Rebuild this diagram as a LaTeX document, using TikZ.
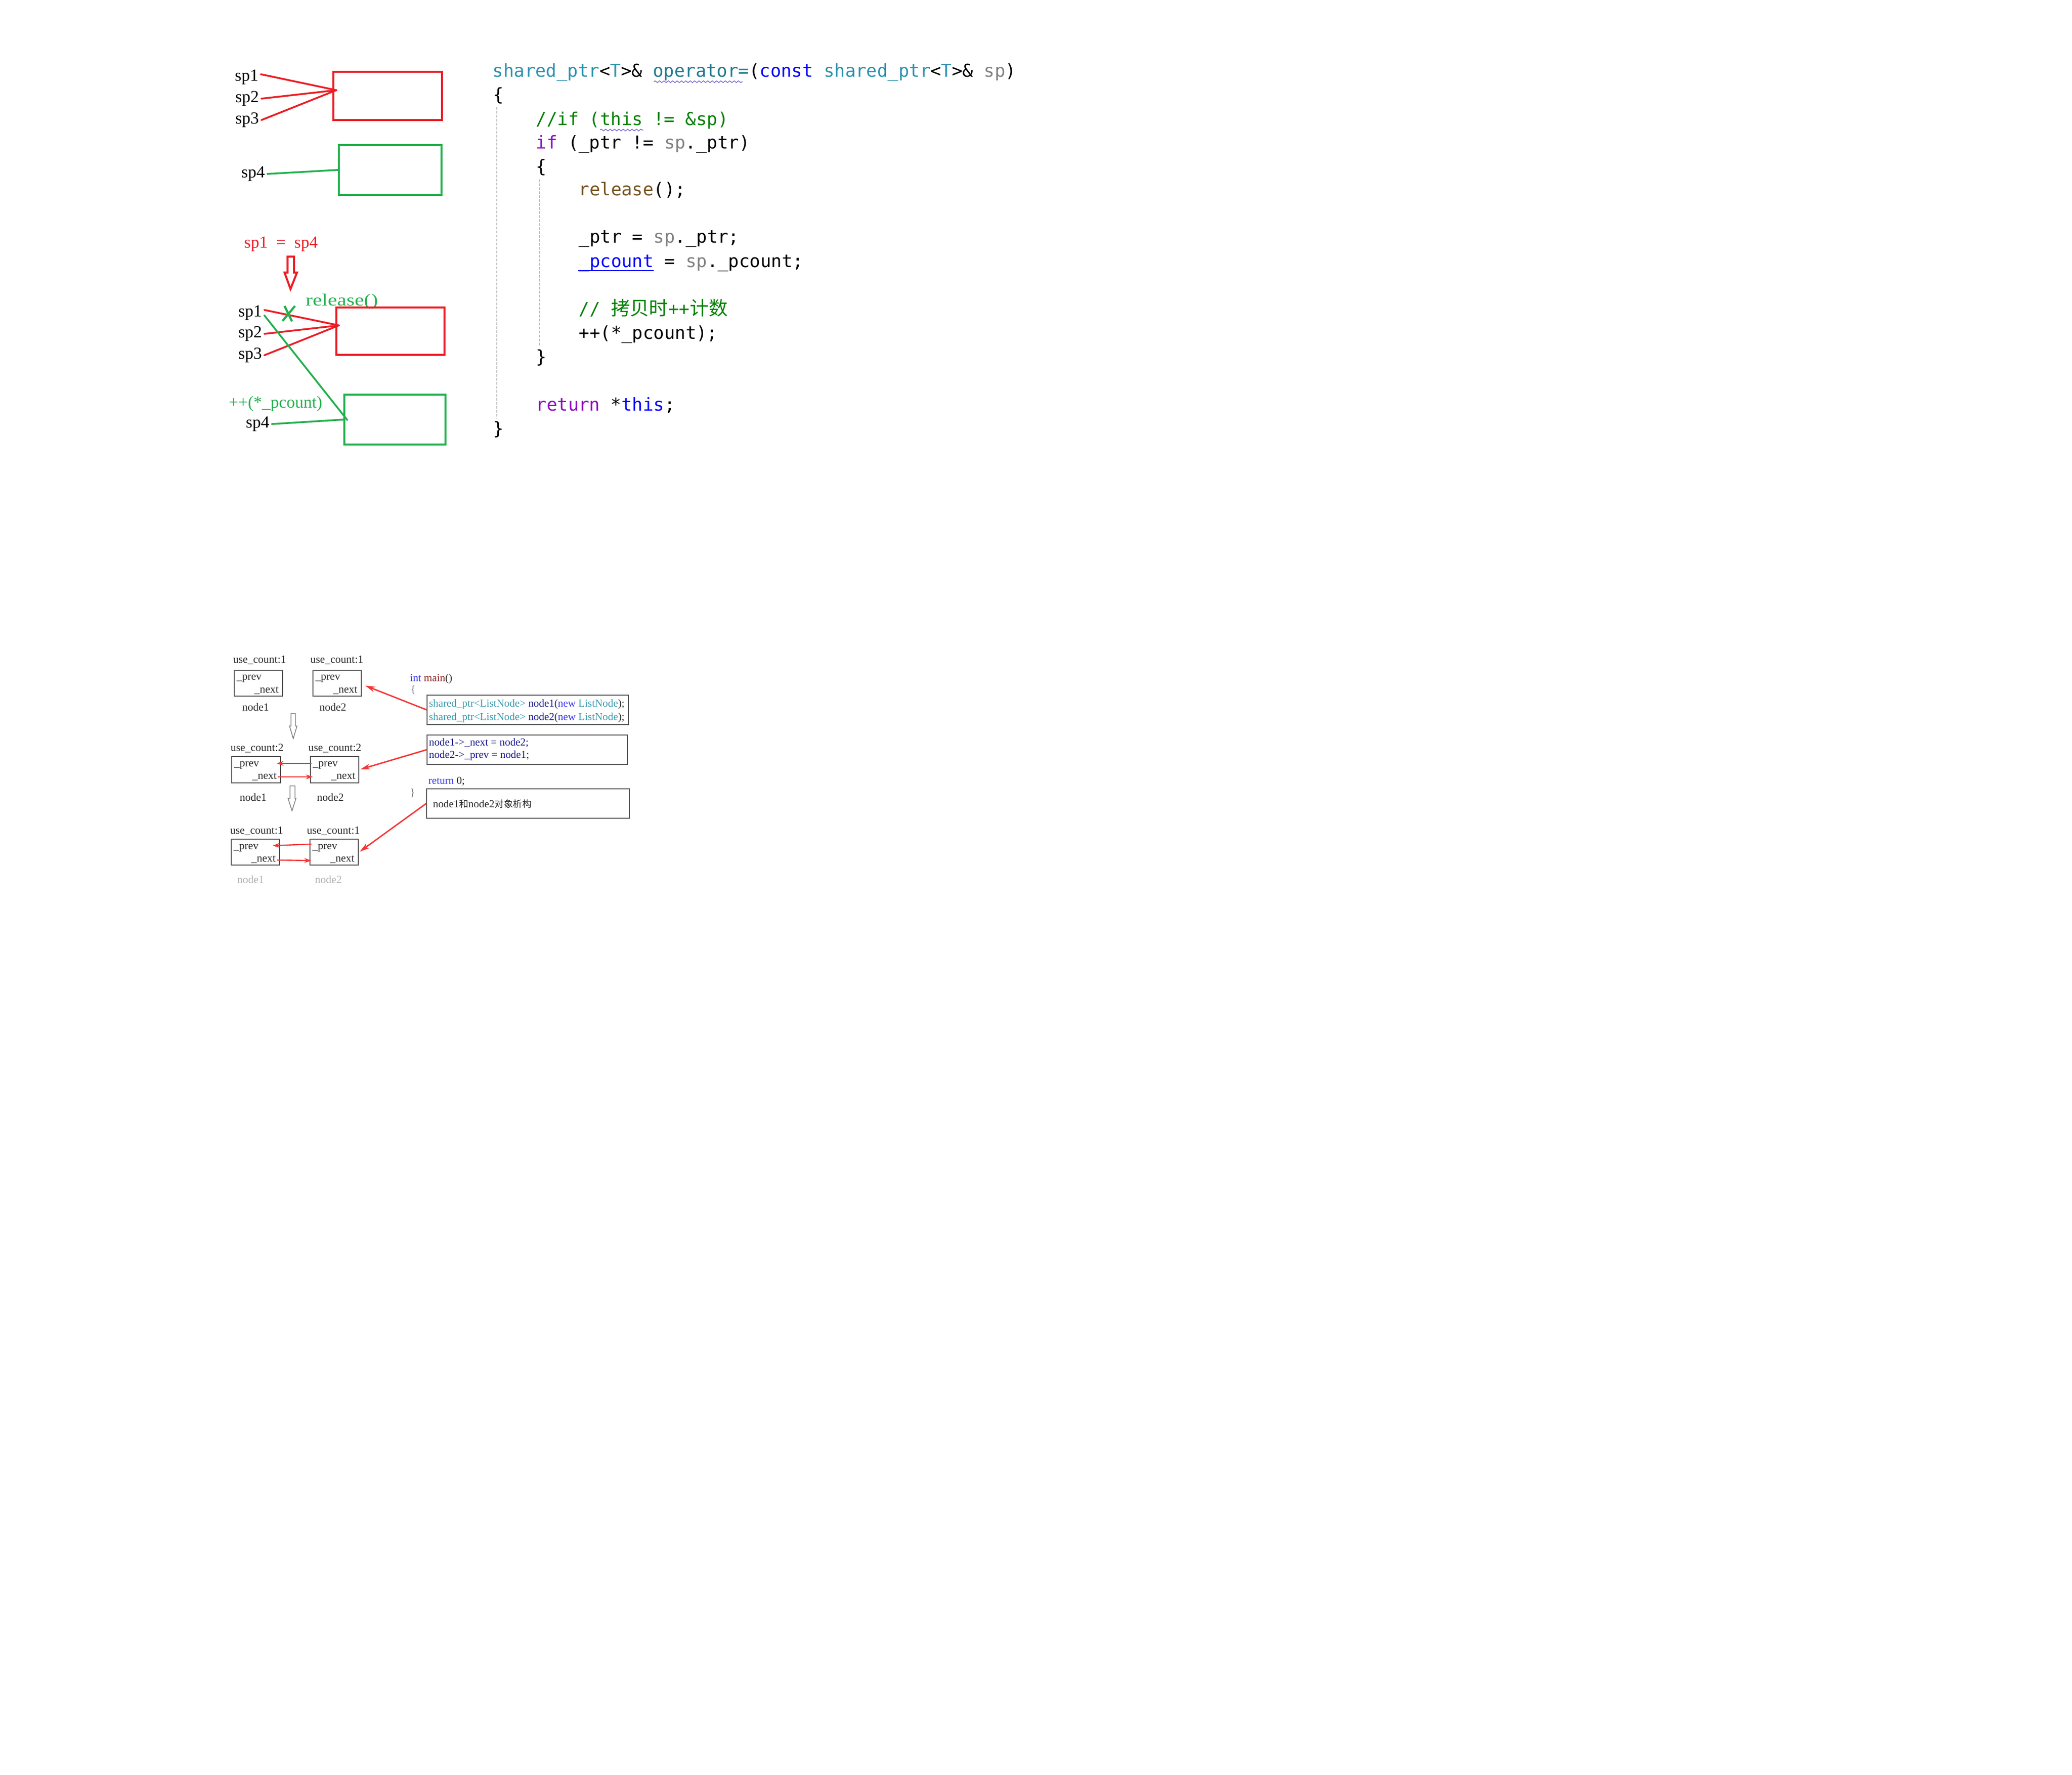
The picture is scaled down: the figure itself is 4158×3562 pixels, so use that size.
\documentclass[tikz,border=0pt]{standalone}
\usepackage{fontspec}
\setmainfont{Liberation Serif}
\newfontfamily\cjk{Noto Sans CJK SC}
\newfontfamily\codefont{DejaVu Sans Mono}
\usetikzlibrary{fit,arrows.meta,decorations.pathmorphing}
\definecolor{pred}{HTML}{ED1C24}
\definecolor{pgreen}{HTML}{22B14C}
\definecolor{ctype}{HTML}{2B91AF}
\definecolor{cop}{HTML}{1F7A8C}
\definecolor{ckw}{HTML}{0000FF}
\definecolor{cgray}{HTML}{808080}
\definecolor{ccom}{HTML}{008000}
\definecolor{cpur}{HTML}{8F08C4}
\definecolor{cfun}{HTML}{74531F}
\definecolor{bgray}{HTML}{5A5A5A}
\definecolor{bred}{HTML}{F53535}
\definecolor{cnavy}{HTML}{1A1A8C}
\definecolor{cteal2}{HTML}{3A9AAE}
\definecolor{cblue2}{HTML}{3535F0}
\definecolor{cmain}{HTML}{8B2020}
\definecolor{ctext}{HTML}{2A2A2A}
\definecolor{guide}{HTML}{BDBDBD}
\definecolor{squig}{HTML}{6A4FC8}
\begin{document}
\begin{tikzpicture}[x=0.25pt,y=-0.25pt,
  lab/.style={font=\fontsize{8.5}{10}\selectfont, inner sep=1pt},
  redtxt/.style={lab, text=pred},
  greentxt/.style={lab, text=pgreen},
  rbox/.style={draw=pred, line width=1pt, inner sep=0pt},
  gbx/.style={draw=pgreen, line width=1pt, inner sep=0pt},
  rline/.style={draw=pred, line width=0.9pt, line cap=round},
  gline/.style={draw=pgreen, line width=0.9pt, line cap=round},
  code/.style={font=\codefont\fontsize{8.9}{10}\selectfont, inner sep=0pt, anchor=base west},
  uc/.style={font=\fontsize{5.5}{6}\selectfont, text=ctext, inner sep=0.5pt},
  fld/.style={font=\fontsize{5.5}{6}\selectfont, text=ctext, inner sep=0pt},
  bc/.style={font=\fontsize{5.35}{6}\selectfont, text=ctext, inner sep=0pt, anchor=base west},
  nbox/.style={draw=bgray, line width=0.4pt, inner sep=0pt},
  rarrow/.style={draw=bred, line width=0.6pt, -{Stealth[length=3.6pt,width=2.4pt]}},
  bigarrow/.style={draw=bred, line width=0.7pt, -{Stealth[length=5pt,width=2.8pt]}},
  hollow/.style={draw=bgray!85, line width=0.35pt, fill=white, line join=miter}
]
\useasboundingbox (0,0) rectangle (4158,3562);
\fill[white] (0,0) rectangle (4158,3562);

% ---------- top diagram, before ----------
\node[lab] (t1) at (495,155) {sp1};
\node[lab] (t2) at (496,198) {sp2};
\node[lab] (t3) at (496,241) {sp3};
\node[rbox, fit={(669,144) (887,241)}] (rb1) {};
\coordinate (rp1) at (675,181);
\draw[rline] ([yshift=1.5pt]t1.east) -- (rp1);
\draw[rline] (t2.east) -- (rp1);
\draw[rline] (t3.east) -- (rp1);
\node[lab] (t4) at (508,349) {sp4};
\node[gbx, fit={(680,291) (886,391)}] (gb1) {};
\draw[gline] (t4.east) -- (gb1.west);

% ---------- top diagram, after ----------
\node[redtxt] (eq) at (564,490) {sp1~~=~~sp4};
\draw[pred, line width=1pt, line join=miter]
  (577,515) -- (590,515) -- (590,547) -- (596,547) -- (583,580) -- (571,547) -- (577,547) -- cycle;
\node[greentxt] (rel) at (686,605) {\scalebox{1.24}[1]{release()}};
\node[lab] (s1) at (502,628) {sp1};
\node[lab] (s2) at (502,670) {sp2};
\node[lab] (s3) at (502,713) {sp3};
\node[rbox, fit={(675,617) (892,712)}] (rb2) {};
\coordinate (rp2) at (680,653);
\draw[rline] ([yshift=1.5pt]s1.east) -- (rp2);
\draw[rline] (s2.east) -- (rp2);
\draw[rline] (s3.east) -- (rp2);
\node[greentxt] (inc) at (553,810) {++(*\_pcount)};
\node[lab] (s4) at (517,851) {sp4};
\node[gbx, fit={(691,792) (894,892)}] (gb2) {};
\coordinate (gp2) at (697,843);
\draw[gline] ([yshift=-1.2pt]s1.east) -- (gp2);
\draw[gline] (s4.east) -- (gb2.west);
\draw[pgreen, line width=1.1pt] (571,614) -- (586,645) (592,614) -- (567,644);

% ---------- code ----------
\draw[guide, line width=0.4pt, dash pattern=on 1.2pt off 0.8pt] (997,215) -- (997,840);
\draw[guide, line width=0.4pt, dash pattern=on 1.2pt off 0.8pt] (1083,360) -- (1083,695);
\node[code] (c1) at (988,155) {\textcolor{ctype}{shared\_ptr}<\textcolor{ctype}{T}>\& \textcolor{cop}{operator=}(\textcolor{ckw}{const} \textcolor{ctype}{shared\_ptr}<\textcolor{ctype}{T}>\& \textcolor{cgray}{sp})};
\node[code] (c2) at (989,203) {\{};
\node[code] (c3) at (1075,252) {\textcolor{ccom}{//if (this != \&sp)}};
\node[code] (c4) at (1075,299) {\textcolor{cpur}{if} (\_ptr != \textcolor{cgray}{sp}.\_ptr)};
\node[code] (c5) at (1075,347) {\{};
\node[code] (c6) at (1161,393) {\textcolor{cfun}{release}();};
\node[code] (c8) at (1161,488) {\_ptr = \textcolor{cgray}{sp}.\_ptr;};
\node[code] (c9) at (1161,537) {\textcolor{ckw}{\_pcount} = \textcolor{cgray}{sp}.\_pcount;};
\node[code] (c11) at (1161,633) {\textcolor{ccom}{// {\cjk\fontsize{9.6}{10}\selectfont 拷贝时}++{\cjk\fontsize{9.6}{10}\selectfont 计数}}};
\node[code] (c12) at (1161,681) {++(*\_pcount);};
\node[code] (c13) at (1075,729) {\}};
\node[code] (c15) at (1075,825) {\textcolor{cpur}{return} *\textcolor{ckw}{this};};
\node[code] (c16) at (989,873) {\}};
\draw[squig, line width=0.3pt, decoration={snake, segment length=2.2pt, amplitude=0.45pt}, decorate] (1312,164) -- (1490,164);
\draw[squig, line width=0.3pt, decoration={snake, segment length=2.2pt, amplitude=0.45pt}, decorate] (1204,261) -- (1291,261);
\draw[ckw, line width=0.6pt] (1160,543) -- (1312,543);

% ---------- bottom: nodes ----------
\node[uc] (u11) at (521,1325) {use\_count:1};
\node[uc] (u12) at (676,1325) {use\_count:1};
\node[nbox, fit={(470,1345) (567,1397)}] (n11) {};
\node[nbox, fit={(628,1345) (725,1397)}] (n12) {};
\node[fld, anchor=base west] (p11) at (474,1365) {\_prev};
\node[fld, anchor=base east] (x11) at (560,1390) {\_next};
\node[fld, anchor=base west] (p12) at (632,1365) {\_prev};
\node[fld, anchor=base east] (x12) at (718,1390) {\_next};
\node[uc] (l11) at (513,1419) {node1};
\node[uc] (l12) at (668,1419) {node2};
\draw[hollow] (584,1432) -- (593,1432) -- (593,1457) -- (596,1457) -- (588.5,1482) -- (581,1457) -- (584,1457) -- cycle;

\node[uc] (u21) at (516,1502) {use\_count:2};
\node[uc] (u22) at (672,1502) {use\_count:2};
\node[nbox, fit={(465,1518) (563,1571)}] (n21) {};
\node[nbox, fit={(623,1518) (720,1571)}] (n22) {};
\node[fld, anchor=base west] (p21) at (469,1538) {\_prev};
\node[fld, anchor=base east] (x21) at (556,1563) {\_next};
\node[fld, anchor=base west] (p22) at (627,1538) {\_prev};
\node[fld, anchor=base east] (x22) at (714,1563) {\_next};
\node[uc] (l21) at (508,1600) {node1};
\node[uc] (l22) at (663,1600) {node2};
\coordinate (t21) at (555,1532);
\coordinate (t22) at (628,1559);
\coordinate (f22) at (625,1532);
\coordinate (f21) at (558,1559);
\draw[rarrow] (f22) -- (t21);
\draw[rarrow] (f21) -- (t22);
\draw[hollow] (582,1577) -- (592,1577) -- (592,1602) -- (594,1602) -- (586,1627) -- (578,1602) -- (582,1602) -- cycle;

\node[uc] (u31) at (515,1668) {use\_count:1};
\node[uc] (u32) at (669,1668) {use\_count:1};
\node[nbox, fit={(464,1684) (561,1736)}] (n31) {};
\node[nbox, fit={(622,1684) (719,1736)}] (n32) {};
\node[fld, anchor=base west] (p31) at (468,1704) {\_prev};
\node[fld, anchor=base east] (x31) at (554,1729) {\_next};
\node[fld, anchor=base west] (p32) at (626,1704) {\_prev};
\node[fld, anchor=base east] (x32) at (712,1729) {\_next};
\node[uc, text=gray!60] (l31) at (503,1765) {node1};
\node[uc, text=gray!60] (l32) at (659,1765) {node2};
\coordinate (t31) at (547,1697);
\coordinate (t32) at (625,1727);
\coordinate (f32) at (625,1694);
\coordinate (f31) at (556,1726);
\draw[rarrow] (f32) -- (t31);
\draw[rarrow] (f31) -- (t32);

% ---------- bottom: code ----------
\node[bc] (im) at (822,1367) {\textcolor{cblue2}{int} \textcolor{cmain}{main}()};
\node[bc, text=gray] (ob) at (823,1391) {\{};
\node[nbox, fit={(857,1395) (1261,1454)}] (cA) {};
\node[bc] (a1) at (860,1418) {\textcolor{cteal2}{shared\_ptr<ListNode>} \textcolor{cnavy}{node1}(\textcolor{cblue2}{new} \textcolor{cteal2}{ListNode});};
\node[bc] (a2) at (860,1445) {\textcolor{cteal2}{shared\_ptr<ListNode>} \textcolor{cnavy}{node2}(\textcolor{cblue2}{new} \textcolor{cteal2}{ListNode});};
\node[nbox, fit={(857,1475) (1259,1534)}] (cB) {};
\node[bc, text=cnavy] (b1) at (860,1496) {node1->\_next = node2;};
\node[bc, text=cnavy] (b2) at (860,1521) {node2->\_prev = node1;};
\node[bc] (rt) at (859,1573) {\textcolor{cblue2}{return} 0;};
\node[bc, text=gray] (cb) at (822,1597) {\}};
\node[nbox, fit={(856,1583) (1263,1642)}] (cC) {};
\node[bc] (ct) at (868,1620) {node1{\cjk\fontsize{4.7}{5}\selectfont 和}node2{\cjk\fontsize{4.7}{5}\selectfont 对象析构}};
\coordinate (tA) at (733,1376);
\coordinate (tB) at (723,1544);
\coordinate (tC) at (722,1709);
\draw[bigarrow] (cA.west) -- (tA);
\draw[bigarrow] (cB.west) -- (tB);
\draw[bigarrow] (cC.west) -- (tC);
\end{tikzpicture}
\end{document}
